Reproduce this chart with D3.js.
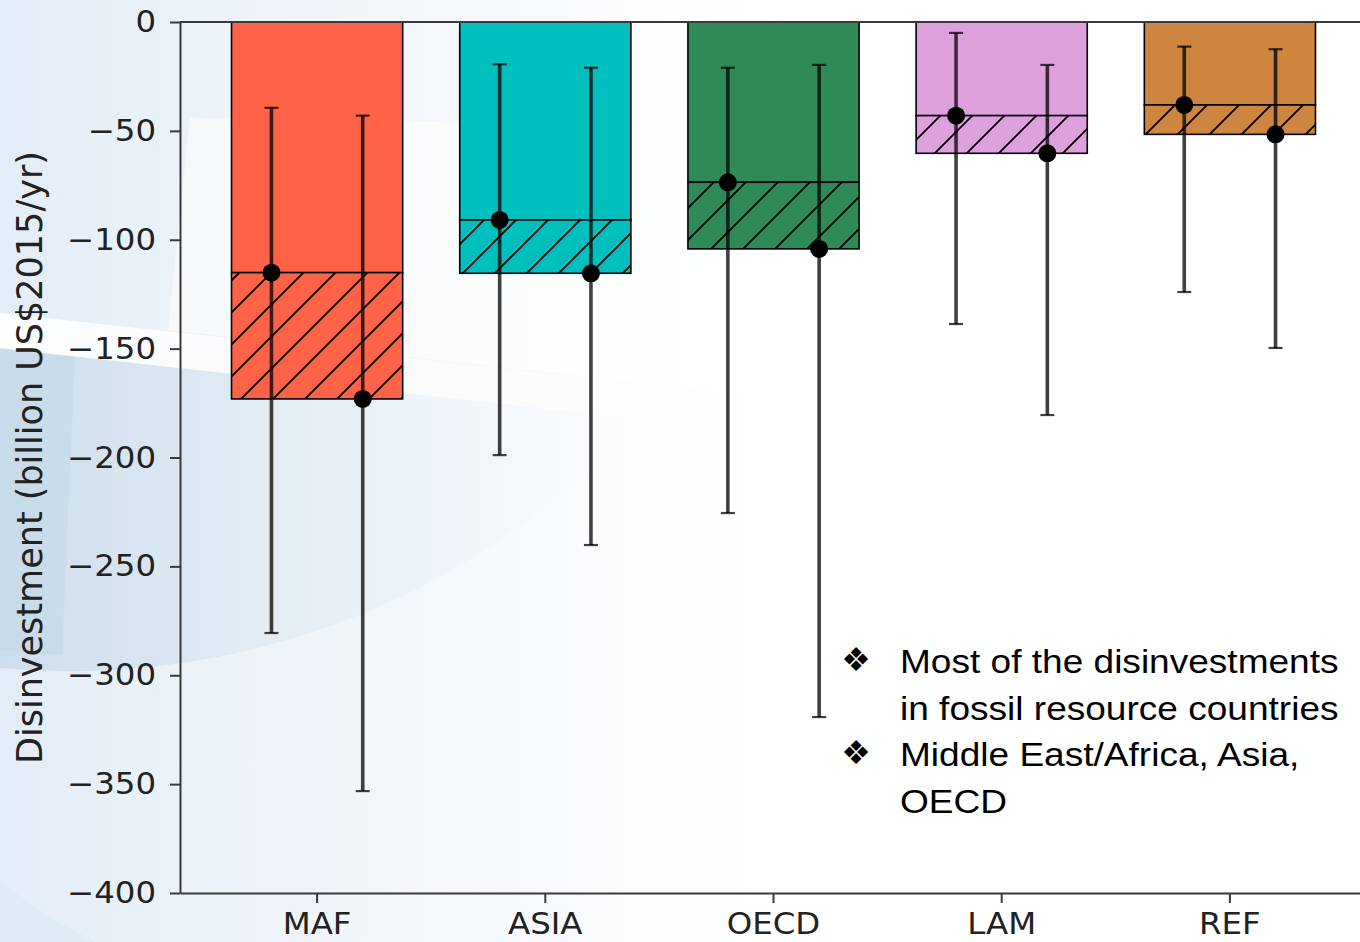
<!DOCTYPE html>
<html><head><meta charset="utf-8">
<script src="https://cdn.jsdelivr.net/npm/d3@7"></script>
<style>body{margin:0;background:#fff}svg{display:block}</style>
</head><body><svg id="c" width="1360" height="942"></svg>
<script>
// ---- data ----
const categories = ["MAF", "ASIA", "OECD", "LAM", "REF"];
const barColors = ["#FF6347", "#00BFBF", "#2E8B57", "#DDA0DD", "#CD853F"];
const solidValues = [-115.1, -90.9, -73.6, -43, -38.1];
const hatchedValues = [-173.1, -115.4, -104.2, -60.3, -51.6];
const err1Low = [-280.6, -198.9, -225.5, -138.7, -124];
const err1High = [-39.4, -19.4, -21, -5, -11.3];
const err2Low = [-353.2, -240.2, -319.2, -180.5, -149.7];
const err2High = [-43, -21, -19.7, -19.7, -12.5];
const yTicks = [0, -50, -100, -150, -200, -250, -300, -350, -400];
const yLabel = "Disinvestment (billion US$2015/yr)";
const noteBullets = [
  ["Most of the disinvestments", "in fossil resource countries"],
  ["Middle East/Africa, Asia,", "OECD"]
];

const svg = d3.select("#c");
const defs = svg.append("defs");
const SX = 1.08; // horizontal stretch of text in the reference

// ---- background watermark ----
const g1 = defs.append("linearGradient").attr("id", "bgL").attr("x1", 0).attr("x2", 1).attr("y1", 0).attr("y2", 0);
g1.append("stop").attr("offset", 0).attr("stop-color", "#e3edf7");
g1.append("stop").attr("offset", 0.3).attr("stop-color", "#edf3f9");
g1.append("stop").attr("offset", 0.7).attr("stop-color", "#f7fafd");
g1.append("stop").attr("offset", 1).attr("stop-color", "#ffffff").attr("stop-opacity", 0);
const g2 = defs.append("linearGradient").attr("id", "bgD").attr("x1", 0).attr("x2", 1).attr("y1", 0).attr("y2", 0);
g2.append("stop").attr("offset", 0).attr("stop-color", "#c9dcea").attr("stop-opacity", 0.9);
g2.append("stop").attr("offset", 0.35).attr("stop-color", "#d3e3ee").attr("stop-opacity", 0.6);
g2.append("stop").attr("offset", 1).attr("stop-color", "#e6eff6").attr("stop-opacity", 0);
const g3 = defs.append("linearGradient").attr("id", "bgW").attr("x1", 0).attr("x2", 1).attr("y1", 0).attr("y2", 0);
g3.append("stop").attr("offset", 0).attr("stop-color", "#ffffff").attr("stop-opacity", 0.95);
g3.append("stop").attr("offset", 1).attr("stop-color", "#ffffff").attr("stop-opacity", 0.2);

const bg = svg.append("g");
bg.append("rect").attr("width", 800).attr("height", 942).attr("fill", "url(#bgL)");
bg.append("path").attr("d", "M190,118 L800,128 L800,400 L168,330 Z").attr("fill", "#ffffff").attr("opacity", 0.55);
bg.append("path").attr("d", "M0,348 L600,415 L600,460 A770,770 0 0 1 0,668 Z").attr("fill", "url(#bgD)");
bg.append("path").attr("d", "M0,350 L75,357 L62,655 L0,650 Z").attr("fill", "#c4d9e8").attr("opacity", 0.6);
bg.append("path").attr("d", "M0,313 L720,392 L720,428 L0,348 Z").attr("fill", "url(#bgW)");
bg.append("path").attr("d", "M0,880 Q40,915 95,942 L0,942 Z").attr("fill", "#dce8f3").attr("opacity", 0.8);

// hatch pattern
const pat = defs.append("pattern").attr("id", "hatch").attr("patternUnits", "userSpaceOnUse")
  .attr("width", 32).attr("height", 32);
pat.append("path").attr("d", "M0,32 L32,0 M-8,8 L8,-8 M24,40 L40,24")
  .attr("stroke", "#000").attr("stroke-width", 1.8).attr("fill", "none");

// ---- scales ----
const plotL = 180, plotR = 1367, plotT = 22, plotB = 893;
const x = d3.scaleBand().domain(categories).range([plotL, plotR]).paddingInner(0.25).paddingOuter(0.2258);
const y = d3.scaleLinear().domain([-400, 0]).range([plotB, plotT]);
const stepW = x.step();
const off = 0.2 * stepW;
const cx = c => x(c) + x.bandwidth() / 2;

const rows = categories.map((c, i) => ({
  c, color: barColors[i], a: solidValues[i], b: hatchedValues[i],
  e1: [err1Low[i], err1High[i]], e2: [err2Low[i], err2High[i]]
}));

// ---- bars ----
const bars = svg.append("g");
bars.selectAll(".solid").data(rows).join("rect")
  .attr("x", d => x(d.c)).attr("width", x.bandwidth())
  .attr("y", y(0)).attr("height", d => y(d.a) - y(0))
  .attr("fill", d => d.color).attr("stroke", "#000").attr("stroke-width", 1.6);
bars.selectAll(".hfill").data(rows).join("rect")
  .attr("x", d => x(d.c)).attr("width", x.bandwidth())
  .attr("y", d => y(d.a)).attr("height", d => y(d.b) - y(d.a))
  .attr("fill", d => d.color);
bars.selectAll(".hpat").data(rows).join("rect")
  .attr("x", d => x(d.c)).attr("width", x.bandwidth())
  .attr("y", d => y(d.a)).attr("height", d => y(d.b) - y(d.a))
  .attr("fill", "url(#hatch)").attr("stroke", "#000").attr("stroke-width", 1.6);

// ---- axes ----
const fmt = d => d3.format("d")(d);
const yAxis = svg.append("g").attr("transform", `translate(${plotL},0)`)
  .call(d3.axisLeft(y).tickValues(yTicks).tickSize(10).tickSizeOuter(0).tickPadding(14).tickFormat(fmt));
const xAxis = svg.append("g").attr("transform", `translate(0,${plotB})`)
  .call(d3.axisBottom(x).tickSize(10).tickSizeOuter(0).tickPadding(10));
[yAxis, xAxis].forEach(a => {
  a.select(".domain").attr("stroke", "#3a3a3a").attr("stroke-width", 2);
  a.selectAll(".tick line").attr("stroke", "#3a3a3a").attr("stroke-width", 2);
  a.selectAll(".tick text").attr("font-family", "DejaVu Sans").attr("font-size", 30).attr("fill", "#222");
});
yAxis.selectAll(".tick text").each(function () {
  const t = d3.select(this);
  const xx = +t.attr("x");
  t.attr("x", 0).attr("transform", `translate(${xx},0) scale(${SX},1)`);
});
xAxis.selectAll(".tick text").attr("transform", `scale(${SX},1)`);
svg.append("line").attr("x1", plotL).attr("x2", plotR).attr("y1", y(0)).attr("y2", y(0))
  .attr("stroke", "#3a3a3a").attr("stroke-width", 2);

// y label
svg.append("text").attr("transform", `translate(42,${(plotT + plotB) / 2}) rotate(-90)`)
  .attr("text-anchor", "middle").attr("font-family", "DejaVu Sans").attr("font-size", 35)
  .attr("fill", "#222").text(yLabel);

// ---- error bars ----
const eg = svg.append("g").attr("stroke", "#000").attr("stroke-opacity", 0.75);
const errs = [];
rows.forEach(d => {
  errs.push({ px: cx(d.c) - off, lo: d.e1[0], hi: d.e1[1], v: d.a });
  errs.push({ px: cx(d.c) + off, lo: d.e2[0], hi: d.e2[1], v: d.b });
});
eg.selectAll(".eb").data(errs).join("line")
  .attr("x1", d => d.px).attr("x2", d => d.px).attr("y1", d => y(d.hi)).attr("y2", d => y(d.lo))
  .attr("stroke-width", 3.6);
eg.selectAll(".capH").data(errs).join("line")
  .attr("x1", d => d.px - 7).attr("x2", d => d.px + 7).attr("y1", d => y(d.hi)).attr("y2", d => y(d.hi))
  .attr("stroke-width", 2.2);
eg.selectAll(".capL").data(errs).join("line")
  .attr("x1", d => d.px - 7).attr("x2", d => d.px + 7).attr("y1", d => y(d.lo)).attr("y2", d => y(d.lo))
  .attr("stroke-width", 2.2);
svg.append("g").selectAll("circle").data(errs).join("circle")
  .attr("cx", d => d.px).attr("cy", d => y(d.v)).attr("r", 9).attr("fill", "#000");

// ---- annotation ----
const ng = svg.append("g");
let lineNo = 0;
const baseY = 673, lh = 46.5;
noteBullets.forEach(lines => {
  ng.append("text").attr("transform", `translate(856,${baseY + lineNo * lh - 2})`)
    .attr("text-anchor", "middle").attr("font-family", "DejaVu Sans").attr("font-size", 33)
    .attr("fill", "#000").text("\u2756");
  lines.forEach(s => {
    ng.append("text").attr("transform", `translate(900,${baseY + lineNo * lh}) scale(1.09,1)`)
      .attr("font-family", "Liberation Sans, Arial, sans-serif").attr("font-size", 34)
      .attr("fill", "#000").text(s);
    lineNo++;
  });
});
</script></body></html>
